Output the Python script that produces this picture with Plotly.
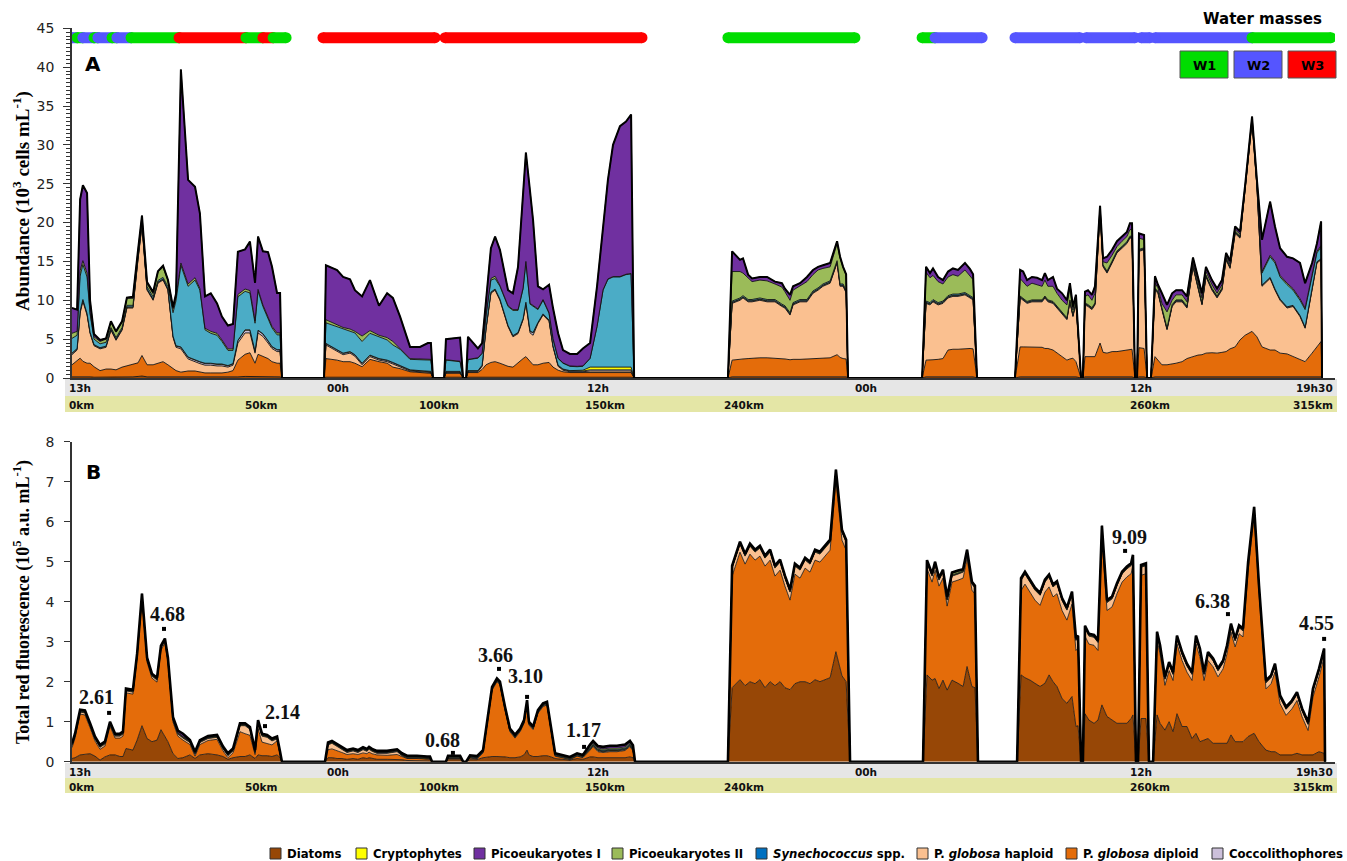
import plotly.graph_objects as go

# ---------------- Panel A : abundance (10^3 cells mL-1) ----------------
hours_a = [
    0.00, 0.22, 0.35, 0.47, 0.65, 0.78, 0.95, 1.21, 1.47, 1.68, 1.90, 2.16, 2.37, 2.63, 2.85, 3.02, 3.24, 3.50, 3.71, 3.93,
    4.14, 4.36, 4.49, 4.70, 5.01, 5.31, 5.52, 5.74, 5.99, 6.26, 6.47, 6.73, 6.95, 7.16, 7.47, 7.68, 7.90, 8.03, 8.24, 8.46,
    8.63, 8.85, 8.98, 9.06,
    10.88, 10.96, 11.44, 11.70, 12.00, 12.21, 12.52, 12.86, 13.25, 13.60, 13.85, 14.16, 14.59, 15.02, 15.36, 15.49, 15.58,
    16.06, 16.14, 16.75, 16.88, 17.01, 17.09, 17.31, 17.52, 17.70, 17.87, 18.08, 18.26, 18.47, 18.82, 19.03, 19.25, 19.47,
    19.59, 19.77, 19.90, 20.11, 20.33, 20.59, 20.76, 20.98, 21.19, 21.49, 21.80, 22.05, 22.36, 22.66, 22.92, 23.13, 23.35,
    23.65, 23.91, 24.13, 24.26,
    28.31, 28.49, 28.83, 28.96, 29.18, 29.35, 29.69, 30.00, 30.34, 30.64, 30.77, 30.99, 31.12, 31.42, 31.72, 31.98, 32.20,
    32.41, 32.72, 33.02, 33.15, 33.28, 33.41, 33.49,
    36.69, 36.86, 37.03, 37.16, 37.38, 37.59, 37.81, 38.02, 38.24, 38.54, 38.76, 38.89, 39.06,
    40.70, 40.92, 41.05, 41.22, 41.43, 41.65, 41.87, 41.99, 42.12, 42.34, 42.51, 42.73, 42.94, 43.07, 43.20, 43.33, 43.55,
    43.63, 43.72, 43.85, 44.02, 44.15, 44.37, 44.50, 44.67, 44.89, 45.10, 45.32, 45.53, 45.66, 45.75, 45.88,
    45.97, 46.05, 46.27, 46.40,
    46.57, 46.74, 46.87, 47.04, 47.26, 47.48, 47.65, 47.91, 48.12, 48.38, 48.60, 48.77, 48.94, 49.20, 49.42, 49.63, 49.81,
    49.98, 50.20, 50.41, 50.63, 50.93, 51.14, 51.36, 51.71, 51.92, 52.14, 52.44, 52.70, 53.00, 53.22, 53.52, 53.73, 53.91, 53.95,
]
diatoms_a = [
    .15, .15, .2, .2, .15, .15, .1, .1, .1, .1, .1, .1, .15, .15, .2, .25, .15, .15, .15, .15,
    .15, .1, .1, .1, .1, .1, .1, .1, .1, .1, .1, .1, .1, .15, .2, .2, .15, .2, .2, .15, .15, .15, .15, 0,
    0, .1, .1, .1, .1, .1, .1, .1, .1, .1, .1, .1, .1, .1, .1, .1, 0,
    0, .1, .1, 0, 0, .1, .1, .1, .1, .1, .1, .1, .1, .1, .1, .1, .1, .1, .1, .1,
    .1, .1, .1, .1, .1, .1, .1, .1, .1, .1, .1, .1, .1, .1, .1, .1, .1, 0,
    0, .15, .15, .15, .15, .15, .15, .15, .15, .15, .15, .15, .15, .15, .15, .15, .15, .15, .15, .15, .15, .15, .15, 0,
    0, .15, .15, .15, .15, .15, .15, .15, .15, .15, .15, .15, 0,
    0, .15, .15, .15, .15, .15, .15, .15, .15, .15, .15, .15, .15, .15, .15, .15, 0,
    0, .15, .15, .15, .15, .15, .15, .15, .15, .15, .15, .15, .15, .15, 0,
    0, .15, .15, 0,
    0, .15, .15, .15, .15, .15, .15, .15, .15, .15, .15, .15, .15, .15, .15, .15, .15, .15, .15, .15, .15, .15, .15,
    .15, .15, .15, .15, .15, .15, .15, .15, .15, .15, .15, 0,
]
diploid_a = [
    1.55, 2.15, 2.35, 1.95, 1.75, 1.75, 1.35, .85, 1.05, 1.05, .95, 1.3, 1.4, 1.55, 1.75, 2.65, 1.55, 1.55, 1.75, 1.95,
    1.55, 1.05, .85, .65, .8, .8, .65, .55, .55, .55, .55, .65, .85, 2.15, 2.85, 3.05, 1.75, 2.85, 2.6, 2.35, 1.95, 1.75, 1.75, 0,
    0, 2.4, 2.2, 2.0, 2.0, 1.8, 1.35, 2.3, 2.0, 1.8, 1.3, 1.1, .7, .6, .5, .5, 0,
    0, .5, .5, 0, 0, .6, .6, .6, 1.0, 1.6, 1.9, 2.0, 1.8, 1.4, 1.3, 1.9, 2.4, 2.65, 2.0, 1.6,
    1.6, 1.8, 1.9, 1.3, .9, .7, .6, .6, .6, .6, .6, .6, .6, .6, .6, .6, .6, 0,
    0, 2.15, 2.3, 2.3, 2.35, 2.4, 2.45, 2.45, 2.4, 2.3, 2.3, 2.2, 2.25, 2.25, 2.3, 2.35, 2.4, 2.4, 2.45, 2.85, 2.5, 2.35, 2.3, 0,
    0, 2.15, 2.15, 2.2, 2.25, 2.35, 3.45, 3.55, 3.55, 3.65, 3.65, 3.6, 0,
    0, 3.85, 3.85, 3.85, 3.85, 3.85, 3.8, 3.65, 3.65, 3.45, 3.05, 2.6, 2.15, 2.3, 2.4, 1.95, 0,
    0, 2.6, 2.6, 2.6, 2.6, 4.35, 3.15, 3.05, 3.25, 3.25, 3.35, 3.45, 3.55, 3.55, 0,
    0, 3.75, 3.65, 0,
    0, 2.6, 2.15, 1.55, 1.55, 1.65, 1.75, 1.95, 2.35, 2.6, 2.8, 2.85, 3.05, 3.1, 3.05, 3.15, 3.25, 3.6, 3.85, 4.75, 5.35,
    5.85, 5.15, 3.85, 3.45, 3.45, 3.05, 2.95, 2.6, 2.15, 1.95, 3.05, 3.85, 4.55, 0,
]
haploid_a = [
    1.3, 1.3, 5.8, 7.7, 6.2, 3.85, 2.7, 2.8, 2.8, 5.0, 3.8, 4.75, 7.45, 7.3, 13.3, 16.7, 9.6, 8.3, 10.3, 10.5,
    9.6, 4.1, 3.0, 3.0, 1.55, 1.15, 1.1, 1.0, 1.0, .9, .9, .65, .7, 2.2, 2.75, 2.55, 1.3, 2.75, 2.55, 2.0, 1.7, 1.5, 1.5, 0,
    0, 1.75, 1.1, .9, 1.1, .9, .25, .35, .2, .2, .4, .2, .1, .1, .1, .1, 0,
    0, .1, .1, 0, 0, .1, .1, .1, .4, 4.6, 8.9, 9.2, 8.1, 5.1, 3.9, 3.7, 5.0, 6.85, 3.7, 3.8,
    5.3, 6.2, 5.3, 2.6, .5, .2, .1, .1, .1, .2, .2, .2, .2, .2, .2, .2, .2, 0,
    0, 7.3, 7.55, 7.85, 7.3, 7.25, 7.4, 7.2, 7.25, 6.75, 6.55, 5.75, 7.0, 7.4, 7.35, 8.4, 8.75, 9.25, 9.6, 11.8, 9.15, 9.3, 8.5, 0,
    0, 7.3, 7.1, 7.45, 7.0, 7.1, 6.7, 6.8, 6.8, 6.9, 6.5, 6.3, 0,
    0, 6.3, 6.0, 5.6, 5.8, 5.8, 5.85, 6.5, 6.0, 6.0, 5.8, 5.35, 5.2, 7.35, 5.35, 7.5, 0,
    0, 6.65, 6.45, 6.05, 6.65, 17.1, 11.0, 10.3, 11.4, 12.7, 13.2, 13.7, 14.3, 14.3, 0,
    0, 12.4, 12.7, 0,
    0, 8.55, 8.6, 7.1, 4.5, 7.4, 7.9, 7.7, 6.5, 11.55, 8.35, 6.4, 9.8, 8.05, 7.1, 8.0, 11.8, 10.35, 14.6, 13.1, 18.7,
    27.0, 19.3, 7.8, 9.2, 7.7, 6.8, 5.9, 6.45, 5.6, 4.3, 8.1, 10.8, 10.5, 0,
]
coccolith_a = [
    .15, .15, .2, .2, .15, .1, .1, .1, .1, .1, .1, .1, .1, .1, .15, .15, .1, .1, .1, .1,
    .1, .1, .15, .2, .2, .2, .2, .2, .2, .2, .2, .15, .15, .3, .35, .35, .2, .3, .3, .25, .2, .2, .2, 0,
    0, .15, .15, .15, .15, .15, .15, .15, .15, .15, .15, .15, .1, .1, .1, .1, 0,
    0, .1, .1, 0, 0, .1, .1, .1, .1, .1, .1, .1, .1, .1, .1, .1, .1, .1, .2, .3,
    .1, .1, .1, .1, .1, .1, .1, .1, .1, .15, .15, .15, .15, .15, .15, .15, .15, 0,
    0, .1, .1, .1, .1, .1, .1, .1, .1, .1, .1, .1, .1, .1, .1, .1, .1, .1, .1, .1, .1, .1, .1, 0,
    0, .1, .1, .1, .1, .1, .1, .1, .1, .1, .1, .1, 0,
    0, .1, .1, .1, .1, .1, .1, .1, .1, .1, .1, .1, .1, .1, .1, .1, 0,
    0, .1, .1, .1, .1, .1, .1, .1, .1, .1, .1, .1, .1, .1, 0,
    0, .1, .1, 0,
    0, .1, .1, .1, .1, .1, .1, .1, .1, .1, .1, .1, .1, .1, .1, .1, .1, .1, .1, .1, .1,
    .1, .1, .1, .1, .1, .1, .1, .1, .1, .1, .1, .1, .1, 0,
]
crypto_a = [
    .05, .05, .05, .05, .05, .05, .05, .05, .05, .05, .05, .05, .05, .05, .05, .05, .05, .05, .05, .05,
    .05, .05, .05, .05, .05, .05, .05, .05, .05, .05, .05, .05, .05, .05, .05, .05, .05, .05, .05, .05, .05, .05, .05, 0,
    0, .05, .05, .05, .05, .05, .05, .05, .05, .05, .05, .05, .05, .05, .05, .05, 0,
    0, .05, .05, 0, 0, .05, .05, .05, .05, .05, .05, .05, .05, .05, .05, .05, .05, .05, .05, .05,
    .05, .05, .05, .05, .05, .05, .05, .05, .1, .35, .35, .35, .35, .35, .35, .35, .35, 0,
    0, .05, .05, .05, .05, .05, .05, .05, .05, .05, .05, .05, .05, .05, .05, .05, .05, .05, .05, .05, .05, .05, .05, 0,
    0, .05, .05, .05, .05, .05, .05, .05, .05, .05, .05, .05, 0,
    0, .05, .05, .05, .05, .05, .05, .05, .05, .05, .05, .05, .05, .05, .05, .05, 0,
    0, .05, .05, .05, .05, .05, .05, .05, .05, .05, .05, .05, .05, .05, 0,
    0, .05, .05, 0,
    0, .05, .05, .05, .05, .05, .05, .05, .05, .05, .05, .05, .05, .05, .05, .05, .05, .05, .05, .05, .05,
    .05, .05, .05, .05, .05, .05, .05, .05, .05, .05, .05, .05, .05, 0,
]
synecho_a = [
    1.9, 1.7, 4.5, 4.5, 4.7, 2.35, .7, .5, .5, .2, .2, .2, .2, .2, .2, .2, .3, .3, .2, .2,
    .3, 3.0, 5.8, 10.5, 9.1, 10.3, 9.2, 4.3, 3.85, 3.7, 2.9, 1.95, 1.7, 5.6, 4.95, 4.75, 3.6, 5.05, 3.5, 2.8, 2.4, 1.9, 1.9, 0,
    0, 2.65, 3.0, 3.1, 2.6, 2.8, 2.8, 2.8, 2.8, 2.6, 2.25, 2.1, 1.35, 1.4, 1.45, 1.45, 0,
    0, 1.45, 1.25, 0, 0, 1.4, 1.5, 1.6, 1.5, 1.5, 1.55, 1.35, 1.65, 2.45, 3.25, 2.85, 3.85, 5.15, 3.45, 3.35,
    1.65, 1.75, .85, .85, .85, .75, .55, .5, .5, 1.1, 5.2, 9.9, 11.3, 11.6, 11.6, 11.9, 12.0, 0,
    0, .15, .15, .15, .15, .15, .15, .15, .15, .15, .15, .15, .15, .15, .15, .15, .15, .15, .15, .15, .15, .15, .15, 0,
    0, .15, .15, .15, .15, .15, .15, .15, .15, .15, .15, .15, 0,
    0, .1, .1, .1, .1, .1, .1, .1, .1, .1, .1, .1, .1, .1, .1, .1, 0,
    0, .1, .1, .1, .1, .1, .1, .1, .1, .1, .1, .1, .1, .1, 0,
    0, .1, .1, 0,
    0, .1, .1, .1, .1, .1, .1, .1, .1, .1, .1, .1, .1, .1, .1, .1, .1, .1, .1, .1, .1,
    .1, .1, 1.55, 2.65, 3.35, 2.85, 2.85, 1.95, 1.95, 2.25, 1.55, 1.15, 1.5, 0,
]
pico2_a = [
    .65, .5, .7, .5, .5, .2, .3, .3, .4, .7, .7, .7, .9, .9, .5, .6, .4, .4, 1.1, 1.3,
    .8, .5, .5, .3, .3, .3, .2, .2, .25, .25, .2, .2, .2, .3, .3, .3, .3, .2, .2, .2, .2, .25, .25, 0,
    0, .4, .2, .2, .3, .2, .7, .35, .2, .3, .45, .1, .1, .1, .1, .1, 0,
    0, .05, .05, 0, 0, .05, .05, .05, .05, .2, .2, .3, .1, .1, .1, .1, .1, .1, .1, .1,
    .1, .1, .1, .1, .05, .05, .05, .05, .05, .05, .05, .05, .05, .05, .05, .05, .05, 0,
    0, 3.8, 3.4, 2.9, 2.7, 2.3, 2.3, 2.4, 2.0, 2.2, 1.8, 1.6, 1.6, 1.7, 2.3, 2.1, 2.3, 2.0, 1.8, 2.2, 3.3, 2.1, 2.0, 0,
    0, 3.7, 3.2, 3.1, 2.7, 2.2, 2.4, 2.5, 2.3, 2.9, 2.6, 2.3, 0,
    0, 2.25, 2.15, 1.95, 2.15, 1.95, 1.75, 2.05, 1.75, 1.95, 1.65, 1.65, 1.65, 1.45, .6, .65, 0,
    0, .85, 1.25, .95, 1.25, .2, .4, 1.05, .75, .55, .65, .65, .85, .85, 0,
    0, 1.45, 1.05, 0,
    0, .65, .45, .55, 2.05, .55, .65, .65, .55, .3, .65, .65, .45, .45, .35, .45, .25, .3, .25, .25, .15,
    .2, .35, .2, .2, .2, .2, .2, .2, .2, .2, .2, .2, .2, 0,
]
pico1_a = [
    3.25, 2.8, 9.2, 9.7, 10.3, 1.5, .35, .2, .1, .1, .1, .1, .1, .2, .3, .3, .2, .2, .1, .2,
    .1, .2, .4, 24.9, 13.4, 11.7, 9.7, 4.1, 4.9, 3.85, 3.0, 3.0, 3.2, 5.5, 5.1, 6.3, 4.9, 6.8, 6.9, 8.4, 7.7, 5.15, 5.15, 0,
    0, 7.0, 7.1, 6.5, 6.4, 5.3, 5.1, 6.5, 3.8, 5.7, 5.6, 4.1, 1.5, 1.55, 2.1, 2.1, 0,
    0, 2.65, 3.05, 0, 0, 2.9, 2.0, 1.2, 1.3, 2.25, 3.9, 5.1, 4.6, 2.0, 2.1, 5.5, 12.4, 14.0, 14.4, 11.0,
    2.9, 1.3, 3.6, 3.9, 3.2, 1.65, 1.55, 1.6, 2.25, 1.95, 5.15, 8.15, 12.75, 16.95, 19.35, 19.65, 20.45, 0,
    0, 2.6, 1.5, 1.9, .5, .4, .4, .5, .3, .5, .4, .7, .5, .4, .6, .6, .4, .4, .5, .3, .2, .1, .1, 0,
    0, .7, .6, .9, .6, .5, .7, .8, .8, .9, .8, .7, 0,
    0, 1.1, 1.3, .8, .8, .9, .8, .9, .8, 1.2, .6, .9, .6, .7, .45, .2, 0,
    0, .6, .6, .7, .9, .1, .45, .8, .7, .7, .6, .6, .8, .8, 0,
    0, .6, .6, 0,
    0, .9, .4, 1.3, .9, .9, .6, .6, .7, .65, .8, .6, .6, .6, .6, .6, .4, .4, .4, .35, .2,
    .2, .3, 4.1, 6.9, 4.5, 3.5, 3.4, 3.9, 4.6, 3.2, 1.6, 1.0, 3.1, 0,
]

# ---------------- Panel B : total red fluorescence (10^5 a.u. mL-1) ----------------
hours_b = [
    0.00, 0.13, 0.35, 0.56, 0.78, 0.99, 1.21, 1.42, 1.64, 1.86, 2.07, 2.20, 2.33, 2.63, 2.81, 3.02, 3.24, 3.45, 3.67, 3.84,
    4.01, 4.14, 4.36, 4.57, 4.79, 5.09, 5.31, 5.52, 5.87, 6.26, 6.52, 6.73, 6.95, 7.25, 7.47, 7.68, 7.90, 8.03, 8.20, 8.42,
    8.63, 8.85, 8.98, 9.06,
    10.92, 11.05, 11.22, 11.44, 11.65, 11.87, 12.13, 12.34, 12.56, 12.73, 12.82, 12.95, 13.16, 13.60, 14.03, 14.24, 14.46,
    14.89, 15.32, 15.45, 15.54,
    16.14, 16.23, 16.75, 16.88, 17.01, 17.18, 17.48, 17.74, 17.91, 18.13, 18.34, 18.47, 18.69, 18.90, 19.12, 19.34, 19.51,
    19.64, 19.72, 19.90, 20.11, 20.33, 20.50, 20.67, 20.85, 21.15, 21.49, 21.80, 22.05, 22.36, 22.49, 22.70, 22.92, 23.22,
    23.52, 23.87, 24.08, 24.21, 24.30,
    28.31, 28.49, 28.83, 29.05, 29.26, 29.48, 29.69, 29.91, 30.13, 30.34, 30.56, 30.77, 30.99, 31.20, 31.42, 31.64, 31.85,
    32.07, 32.28, 32.50, 32.72, 32.97, 33.23, 33.41, 33.58,
    36.73, 36.90, 37.12, 37.25, 37.42, 37.59, 37.77, 37.98, 38.24, 38.46, 38.63, 38.84, 38.97, 39.10,
    40.79, 40.96, 41.13, 41.35, 41.56, 41.78, 41.99, 42.17, 42.34, 42.51, 42.73, 42.94, 43.16, 43.33, 43.42, 43.55,
    43.63, 43.72, 43.89, 44.11, 44.28, 44.45, 44.67, 44.89, 45.10, 45.32, 45.53, 45.71, 45.79, 45.92,
    46.01, 46.14, 46.35, 46.48,
    46.66, 46.83, 46.96, 47.17, 47.35, 47.52, 47.69, 47.91, 48.12, 48.34, 48.51, 48.68, 48.86, 49.03, 49.25, 49.46, 49.68,
    49.85, 50.02, 50.20, 50.37, 50.54, 50.76, 51.02, 51.23, 51.53, 51.75, 51.92, 52.14, 52.40, 52.65, 52.87, 53.09, 53.35,
    53.56, 53.82, 54.04, 54.08,
]
diatoms_b = [
    .08, .1, .17, .19, .2, .14, .04, .12, .17, .17, .13, .13, .33, .29, .54, .9, .58, .5, .54, .8,
    .63, .5, .2, .08, .1, .17, .08, .17, .2, .17, .13, .06, .1, .13, .13, .17, .08, .17, .15, .15, .13, .17, .1, 0,
    0, .1, .1, .08, .08, .06, .08, .06, .1, .08, .1, .08, .06, .06, .06, .05, .03, .03, .02, .02, 0,
    0, .05, .05, 0, 0, .05, .05, .1, .12, .13, .13, .13, .12, .1, .1, .12, .17, .29, .17, .13,
    .13, .15, .15, .12, .08, .06, .04, .08, .06, .12, .12, .1, .1, .1, .1, .1, .12, .1, 0,
    0, 1.85, 2.05, 1.9, 2.0, 1.95, 2.05, 1.85, 2.0, 1.9, 2.0, 1.85, 1.8, 1.95, 2.0, 2.0, 1.95, 2.05, 2.0, 2.05, 2.1, 2.75,
    2.15, 2.0, 0,
    0, 2.17, 2.04, 2.08, 1.83, 2.04, 1.79, 2.04, 1.96, 1.88, 2.38, 1.88, 1.85, 0,
    0, 2.17, 2.1, 2.04, 1.96, 1.88, 1.96, 2.17, 2.0, 1.88, 1.58, 1.46, 1.63, .88, .9, 0,
    0, 1.2, 1.04, .96, 1.04, 1.42, 1.13, 1.04, .96, .96, .96, 1.08, 1.17, 0,
    0, 1.08, 1.08, 0,
    0, 1.17, .96, .79, 1.0, .75, 1.2, .88, .88, .58, .71, .5, .54, .58, .46, .46, .45, .46, .67, .5, .5, .5, .63, .71,
    .5, .29, .25, .25, .17, .17, .17, .21, .17, .17, .17, .25, .21, 0,
]
diploid_b = [
    .27, .49, 1.02, .98, .65, .38, .27, .27, .72, .42, .46, .51, 1.39, 1.4, 2.05, 3.19, 1.91, 1.59, 1.45, 1.99,
    2.34, 1.99, .79, .56, .44, .26, .06, .26, .33, .39, .14, .04, .12, .62, .57, .49, .1, .66, .34, .31, .29, .35, .04, 0,
    0, .2, .22, .2, .15, .12, .12, .12, .12, .12, .14, .12, .11, .1, .12, .08, .05, .05, .04, .04, 0,
    0, .03, .03, 0, 0, .04, .02, .12, .84, 1.66, 1.87, 1.79, 1.17, .65, .49, .63, .79, 1.17, .75, .67,
    1.08, 1.23, 1.27, .68, .06, .04, .01, .06, .04, .17, .26, .15, .13, .15, .15, .18, .26, .17, 0,
    0, 2.79, 3.19, 3.04, 3.19, 3.09, 3.09, 3.04, 3.04, 2.74, 2.79, 2.54, 2.24, 2.74, 2.59, 2.84, 2.79, 2.99, 2.99, 3.09,
    3.19, 4.29, 3.39, 3.29, 0,
    0, 2.66, 2.45, 2.71, 2.56, 2.55, 2.10, 2.45, 2.58, 2.71, 2.71, 2.41, 2.34, 0,
    0, 2.11, 2.34, 2.2, 2.08, 2.03, 2.28, 2.2, 2.12, 2.32, 2.2, 2.08, 2.31, 1.9, 1.94, 0,
    0, 1.94, 1.9, 1.95, 1.74, 4.22, 2.65, 2.83, 3.24, 3.53, 3.66, 3.62, 3.74, 0,
    0, 3.58, 3.62, 0,
    0, 1.87, 1.74, 1.12, 1.28, 1.28, 1.74, 1.65, 1.36, 1.45, 2.23, 2.12, 1.49, 1.95, 1.91, 1.66, 1.87, 2.24, 2.57, 2.37,
    2.7, 2.62, 4.15, 5.45, 3.7, 1.53, 1.7, 1.99, 1.28, .99, 1.15, 1.32, .95, .61, 1.45, 1.87, 2.41, 0,
]
haploid_b = [
    .05, .05, .05, .05, .05, .05, .05, .05, .05, .05, .05, .05, .05, .05, .05, .05, .05, .05, .05, .05,
    .05, .05, .05, .05, .05, .05, .05, .05, .05, .05, .05, .05, .05, .15, .2, .15, .05, .15, .15, .15, .1, .05, .05, 0,
    0, .12, .14, .1, .07, .05, .07, .05, .08, .06, .07, .06, .04, .05, .07, .02, .01, .01, .01, .01, 0,
    0, .01, .01, 0, 0, .01, .01, .01, .02, .02, .02, .02, .02, .02, .02, .02, .02, .02, .02, .02,
    .02, .02, .02, .02, .01, .01, .01, .01, .01, .02, .02, .02, .02, .02, .02, .02, .02, .02, 0,
    0, .2, .2, .2, .2, .2, .2, .2, .2, .2, .2, .2, .2, .2, .2, .2, .2, .2, .2, .2, .2, .2, .2, .2, 0,
    0, .15, .15, .15, .15, .15, .15, .15, .15, .15, .15, .15, .15, 0,
    0, .25, .25, .25, .25, .25, .25, .25, .25, .25, .25, .25, .25, .25, .25, 0,
    0, .2, .2, .2, .2, .2, .2, .2, .2, .2, .2, .2, .2, 0,
    0, .2, .2, 0,
    0, .15, .15, .15, .15, .15, .15, .15, .15, .15, .15, .15, .15, .15, .15, .15, .15, .15, .15, .15, .15, .15, .15, .15,
    .15, .15, .15, .15, .15, .15, .15, .15, .15, .15, .15, .15, .15, 0,
]
coccolith_b = [
    .01, .01, .01, .01, .01, .01, .01, .01, .01, .01, .01, .01, .01, .01, .01, .01, .01, .01, .01, .01,
    .01, .01, .01, .01, .01, .01, .01, .01, .01, .01, .01, .01, .01, .01, .01, .01, .01, .01, .01, .01, .01, .01, .01, 0,
    0, .01, .01, .01, .01, .01, .01, .01, .01, .01, .01, .01, .01, .01, .01, .01, .01, .01, .01, .01, 0,
    0, .01, .01, 0, 0, .01, .01, .01, .01, .01, .01, .01, .01, .01, .01, .01, .01, .01, .01, .01,
    .01, .01, .01, .01, .01, .01, .01, .01, .01, .01, .01, .01, .01, .01, .01, .01, .01, .01, 0,
    0, .01, .01, .01, .01, .01, .01, .01, .01, .01, .01, .01, .01, .01, .01, .01, .01, .01, .01, .01, .01, .01, .01, .01, 0,
    0, .01, .01, .01, .01, .01, .01, .01, .01, .01, .01, .01, .01, 0,
    0, .01, .01, .01, .01, .01, .01, .01, .01, .01, .01, .01, .01, .01, .01, 0,
    0, .01, .01, .01, .01, .01, .01, .01, .01, .01, .01, .01, .01, 0,
    0, .01, .01, 0,
    0, .01, .01, .01, .01, .01, .01, .01, .01, .01, .01, .01, .01, .01, .01, .01, .01, .01, .01, .01, .01, .01, .01, .01,
    .01, .01, .01, .01, .01, .01, .01, .01, .01, .01, .01, .01, .01, 0,
]
crypto_b = list(coccolith_b)  # read as the same faint ~0.01 band in every sample
synecho_b = [
    .01, .01, .01, .01, .01, .01, .01, .01, .01, .01, .01, .01, .01, .01, .01, .01, .01, .01, .01, .01,
    .01, .01, .01, .01, .01, .01, .01, .01, .01, .01, .01, .01, .01, .01, .01, .01, .01, .01, .01, .01, .01, .01, .01, 0,
    0, .01, .01, .01, .01, .01, .01, .01, .01, .01, .01, .01, .01, .01, .01, .01, .01, .01, .01, .01, 0,
    0, .01, .01, 0, 0, .01, .01, .01, .01, .01, .01, .01, .01, .01, .01, .01, .01, .01, .01, .01,
    .01, .01, .01, .01, .01, .01, .01, .01, .01, .02, .02, .02, .02, .02, .02, .02, .02, .02, 0,
    0, .01, .01, .01, .01, .01, .01, .01, .01, .01, .01, .01, .01, .01, .01, .01, .01, .01, .01, .01, .01, .01, .01, .01, 0,
    0, .01, .01, .01, .01, .01, .01, .01, .01, .01, .01, .01, .01, 0,
    0, .01, .01, .01, .01, .01, .01, .01, .01, .01, .01, .01, .01, .01, .01, 0,
    0, .01, .01, .01, .01, .01, .01, .01, .01, .01, .01, .01, .01, 0,
    0, .01, .01, 0,
    0, .01, .01, .01, .01, .01, .01, .01, .01, .01, .01, .01, .01, .01, .01, .01, .01, .01, .01, .01, .01, .01, .01, .01,
    .01, .01, .01, .01, .01, .01, .01, .01, .01, .01, .01, .01, .01, 0,
]
pico2_b = [
    .01, .01, .01, .01, .01, .01, .01, .01, .01, .01, .01, .01, .01, .01, .01, .01, .01, .01, .01, .01,
    .01, .01, .01, .01, .01, .01, .01, .01, .01, .01, .01, .01, .01, .01, .01, .01, .01, .01, .01, .01, .01, .01, .01, 0,
    0, .01, .01, .01, .01, .01, .01, .01, .01, .01, .01, .01, .01, .01, .01, .01, .01, .01, .01, .01, 0,
    0, .01, .01, 0, 0, .01, .01, .01, .01, .01, .01, .01, .01, .01, .01, .01, .01, .01, .01, .01,
    .01, .01, .01, .01, .01, .01, .01, .01, .01, .03, .03, .03, .03, .03, .03, .03, .03, .03, 0,
    0, .01, .01, .01, .01, .01, .01, .01, .01, .01, .01, .01, .01, .01, .01, .01, .01, .01, .01, .01, .01, .01, .01, .01, 0,
    0, .01, .01, .01, .01, .01, .03, .04, .04, .02, .01, .01, .01, 0,
    0, .01, .01, .01, .01, .01, .01, .01, .01, .01, .01, .01, .01, .01, .01, 0,
    0, .01, .01, .01, .01, .01, .01, .01, .01, .01, .01, .01, .01, 0,
    0, .01, .01, 0,
    0, .01, .01, .01, .01, .01, .01, .01, .01, .01, .01, .01, .01, .01, .01, .01, .01, .01, .01, .01, .01, .01, .01, .01,
    .01, .01, .01, .01, .01, .01, .01, .01, .01, .01, .01, .01, .01, 0,
]
pico1_b = [
    .02, .02, .02, .02, .02, .02, .02, .02, .02, .02, .02, .02, .02, .02, .02, .02, .02, .02, .02, .02,
    .02, .02, .03, .05, .07, .02, .02, .02, .02, .02, .02, .02, .02, .02, .02, .02, .02, .02, .02, .02, .02, .02, .02, 0,
    0, .02, .02, .02, .02, .02, .02, .02, .02, .02, .02, .02, .02, .02, .02, .02, .02, .02, .02, .02, 0,
    0, .02, .02, 0, 0, .02, .02, .02, .02, .02, .02, .02, .02, .02, .02, .02, .02, .02, .02, .02,
    .02, .02, .02, .02, .02, .02, .02, .02, .02, .05, .05, .05, .05, .06, .06, .06, .05, .05, 0,
    0, .02, .02, .02, .02, .02, .02, .02, .02, .02, .02, .02, .02, .02, .02, .02, .02, .02, .02, .02, .02, .02, .02, .02, 0,
    0, .02, .02, .02, .02, .02, .02, .02, .02, .02, .02, .02, .02, 0,
    0, .02, .02, .02, .02, .02, .02, .02, .02, .02, .02, .02, .02, .02, .02, 0,
    0, .02, .02, .02, .02, .02, .02, .02, .02, .02, .02, .02, .02, 0,
    0, .02, .02, 0,
    0, .02, .02, .02, .02, .02, .02, .02, .02, .02, .02, .02, .02, .02, .02, .02, .02, .02, .02, .02, .02, .02, .02, .02,
    .02, .02, .02, .02, .02, .02, .02, .02, .02, .02, .02, .02, .02, 0,
]

# ---------------- annotations & axis labels ----------------
peak_labels = ["2.61", "4.68", "2.14", "0.68", "3.66", "3.10", "1.17", "9.09", "6.38", "4.55"]
peak_hours = [1.60, 3.97, 8.33, 16.44, 18.43, 19.64, 22.10, 45.45, 49.89, 54.04]
peak_values = [1.22, 3.32, 0.89, 0.22, 2.32, 1.62, 0.37, 5.27, 3.69, 3.07]

time_labels = ["13h", "00h", "12h", "00h", "12h", "19h30"]
time_hours = [0.0, 10.92, 22.14, 33.71, 45.58, 54.51]
km_labels = ["0km", "50km", "100km", "150km", "240km", "260km", "315km"]
km_hours = [0.0, 7.38, 14.89, 22.05, 28.05, 45.58, 54.51]

wm_codes = ["W2", "W1", "W2", "W1", "W2", "W1", "W2", "W1", "W3", "W1", "W3", "W1", "W3", "W3", "W1", "W1", "W2",
            "W2", "W2", "W2", "W2", "W1"]
wm_start = [0.0, 0.22, 0.47, 0.95, 1.12, 1.73, 1.94, 2.55, 4.62, 7.51, 8.24, 8.68, 10.83, 16.10, 28.31, 36.69, 37.25,
            40.70, 43.76, 46.14, 46.74, 50.93]
wm_end = [0.22, 0.47, 0.95, 1.12, 1.73, 1.94, 2.55, 4.62, 7.51, 8.24, 8.68, 9.24, 15.67, 24.60, 33.79, 37.25, 39.28,
          43.51, 45.88, 46.53, 50.93, 54.34]

# ---------------- styling ----------------
FIG_W, FIG_H = 1347, 861


def pxx(p):
    return p / FIG_W


def pxy(p):
    return 1 - p / FIG_H


WM_COLORS = {"W1": "#00DD00", "W2": "#5555FF", "W3": "#FF0000"}
species = [
    ("Diatoms", "#974706", diatoms_a, diatoms_b),
    ("P. globosa diploid", "#E46C0A", diploid_a, diploid_b),
    ("P. globosa haploid", "#FAC090", haploid_a, haploid_b),
    ("Coccolithophores", "#CCC0DA", coccolith_a, coccolith_b),
    ("Cryptophytes", "#FFFF00", crypto_a, crypto_b),
    ("Synechococcus spp.", "#4BACC6", synecho_a, synecho_b),
    ("Picoeukaryotes II", "#9BBB59", pico2_a, pico2_b),
    ("Picoeukaryotes I", "#7030A0", pico1_a, pico1_b),
]
for nm, _, sa, sb in species:
    if len(sa) != len(hours_a) or len(sb) != len(hours_b):
        raise SystemExit(f"length mismatch {nm}: {len(sa)}/{len(hours_a)}  {len(sb)}/{len(hours_b)}")

fig = go.Figure()
for nm, col, sa, sb in species:
    fig.add_trace(go.Scatter(x=hours_a, y=sa, name=nm, stackgroup="A", mode="lines",
                             line=dict(color="#111", width=0.9), fillcolor=col, showlegend=False,
                             xaxis="x", yaxis="y", hoverinfo="skip"))
    fig.add_trace(go.Scatter(x=hours_b, y=sb, name=nm, stackgroup="B", mode="lines",
                             line=dict(color="#111", width=0.8), fillcolor=col, showlegend=False,
                             xaxis="x2", yaxis="y2", hoverinfo="skip"))

total_a = [sum(v) for v in zip(*[s[2] for s in species])]
total_b = [sum(v) for v in zip(*[s[3] for s in species])]
fig.add_trace(go.Scatter(x=hours_a, y=total_a, mode="lines", line=dict(color="black", width=2),
                         showlegend=False, xaxis="x", yaxis="y", hoverinfo="skip"))
fig.add_trace(go.Scatter(x=hours_b, y=total_b, mode="lines", line=dict(color="black", width=2.6),
                         showlegend=False, xaxis="x2", yaxis="y2", hoverinfo="skip"))

# water-mass strip across the top of panel A
WM_LEVEL = 43.8
for code, s, e in zip(wm_codes, wm_start, wm_end):
    c = WM_COLORS[code]
    fig.add_trace(go.Scatter(x=[s, e], y=[WM_LEVEL, WM_LEVEL], mode="lines+markers",
                             line=dict(color=c, width=11), marker=dict(color=c, size=11),
                             showlegend=False, xaxis="x", yaxis="y", hoverinfo="skip"))

# peak markers in panel B
fig.add_trace(go.Scatter(x=peak_hours, y=peak_values, mode="markers",
                         marker=dict(symbol="square", size=4, color="black"),
                         showlegend=False, xaxis="x2", yaxis="y2", hoverinfo="skip", cliponaxis=False))

X_DOM = [pxx(72), pxx(1335)]
axis_common_x = dict(domain=X_DOM, range=[0, 54.51], showticklabels=False, ticks="", showgrid=False,
                     zeroline=False, showline=True, linecolor="#333", linewidth=2, automargin=False)
tickfont = dict(family="DejaVu Sans, Verdana, sans-serif", size=14, color="#222")
fig.update_layout(
    width=FIG_W, height=FIG_H, margin=dict(l=0, r=0, t=0, b=0, autoexpand=False),
    paper_bgcolor="white", plot_bgcolor="white", showlegend=False,
    xaxis=dict(anchor="y", **axis_common_x),
    xaxis2=dict(anchor="y2", **axis_common_x),
    yaxis=dict(domain=[pxy(378), pxy(28.3)], range=[0, 45], tick0=0, dtick=5, ticks="outside", ticklen=7,
               tickcolor="#333", showline=True, linecolor="#333", linewidth=1.5, showgrid=False, zeroline=False,
               tickfont=tickfont, ticklabelstandoff=6, automargin=False,
               minor=dict(dtick=0.5, ticks="outside", ticklen=4, tickcolor="#333", showgrid=False)),
    yaxis2=dict(domain=[pxy(761.7), pxy(441.7)], range=[0, 8], tick0=0, dtick=1, ticks="outside", ticklen=6,
                tickcolor="#333", showline=True, linecolor="#333", linewidth=1.5, showgrid=False, zeroline=False,
                tickfont=tickfont, ticklabelstandoff=7, automargin=False),
)

shapes = []
annotations = []
label_font = dict(family="DejaVu Sans, Verdana, sans-serif", size=10.5, color="#111")
for (t_top, t_bot, k_bot) in [(379, 396, 412), (763, 778, 793)]:
    shapes.append(dict(type="rect", xref="paper", yref="paper", x0=pxx(65), x1=pxx(1337),
                       y0=pxy(t_bot), y1=pxy(t_top), fillcolor="#E6E6E6", line=dict(width=0), layer="below"))
    shapes.append(dict(type="rect", xref="paper", yref="paper", x0=pxx(65), x1=pxx(1337),
                       y0=pxy(k_bot), y1=pxy(t_bot), fillcolor="#E4E6A6", line=dict(width=0), layer="below"))
    ty = pxy((t_top + t_bot) / 2 + 1)
    ky = pxy((t_bot + k_bot) / 2 + 1)
    for i, (lab, h) in enumerate(zip(time_labels, time_hours)):
        last = i == len(time_labels) - 1
        annotations.append(dict(x=h, y=ty, xref="x", yref="paper", text=f"<b>{lab}</b>", showarrow=False,
                                xanchor="right" if last else "left", yanchor="middle",
                                xshift=-5 if i == 0 else 0, font=label_font))
    for i, (lab, h) in enumerate(zip(km_labels, km_hours)):
        last = i == len(km_labels) - 1
        annotations.append(dict(x=h, y=ky, xref="x", yref="paper", text=f"<b>{lab}</b>", showarrow=False,
                                xanchor="right" if last else "left", yanchor="middle",
                                xshift=-5 if i == 0 else 0, font=label_font))

# peak value labels
peak_dx = [-13, 4, 17, -10, -4, -2, -1, 4, -15, -8]
peak_dy = [16, 15, 14, 13, 14, 21, 17, 14, 13, 16]
for lab, h, v, dx, dy in zip(peak_labels, peak_hours, peak_values, peak_dx, peak_dy):
    annotations.append(dict(x=h, y=v, xref="x2", yref="y2", text=f"<b>{lab}</b>", showarrow=False,
                            xanchor="center", yanchor="middle", xshift=dx, yshift=dy,
                            font=dict(family="Liberation Serif, Times New Roman, serif", size=20, color="#111")))

CM = dict(xref="paper", yref="paper", showarrow=False, xanchor="center", yanchor="middle")
annotations += [
    dict(x=pxx(93), y=pxy(64), text="<b>A</b>", font=dict(family="DejaVu Sans, sans-serif", size=20, color="black"), **CM),
    dict(x=pxx(93), y=pxy(472), text="<b>B</b>", font=dict(family="DejaVu Sans, sans-serif", size=20, color="black"), **CM),
    dict(x=pxx(22), y=pxy(201), textangle=-90,
         text="<b>Abundance (10<sup>3</sup> cells mL<sup>-1</sup>)</b>",
         font=dict(family="Liberation Serif, Times New Roman, serif", size=19, color="black"), **CM),
    dict(x=pxx(22), y=pxy(602), textangle=-90,
         text="<b>Total red fluorescence (10<sup>5</sup> a.u. mL<sup>-1</sup>)</b>",
         font=dict(family="Liberation Serif, Times New Roman, serif", size=18, color="black"), **CM),
    dict(x=pxx(1262), y=pxy(19), text="<b>Water masses</b>",
         font=dict(family="DejaVu Sans, Verdana, sans-serif", size=15, color="black"), **CM),
]

# water mass key boxes
for code, x0 in zip(["W1", "W2", "W3"], [1180, 1234, 1288]):
    shapes.append(dict(type="rect", xref="paper", yref="paper", x0=pxx(x0), x1=pxx(x0 + 48),
                       y0=pxy(78), y1=pxy(51), fillcolor=WM_COLORS[code], line=dict(color="#555", width=1)))
    annotations.append(dict(x=pxx(x0 + 24), y=pxy(65), text=f"<b>{code}</b>",
                            font=dict(family="DejaVu Sans, Verdana, sans-serif", size=13, color="black"), **CM))

# species key along the bottom
legend_names = ["Diatoms", "Cryptophytes", "Picoeukaryotes I", "Picoeukaryotes II", "<i>Synechococcus</i> spp.",
                "P. <i>globosa</i> haploid", "P. <i>globosa</i> diploid", "Coccolithophores"]
legend_colors = ["#974706", "#FFFF00", "#7030A0", "#9BBB59", "#0070C0", "#FAC090", "#E46C0A", "#CCC0DA"]
legend_x = [270, 356, 474, 612, 756, 917, 1066, 1212]
for nm, col, x0 in zip(legend_names, legend_colors, legend_x):
    shapes.append(dict(type="rect", xref="paper", yref="paper", x0=pxx(x0), x1=pxx(x0 + 11),
                       y0=pxy(859), y1=pxy(848), fillcolor=col, line=dict(color="#333", width=1)))
    annotations.append(dict(x=pxx(x0 + 15), y=pxy(853.5), xref="paper", yref="paper", text=f"<b>{nm}</b>",
                            showarrow=False, xanchor="left", yanchor="middle",
                            font=dict(family="Liberation Sans Narrow, DejaVu Sans Condensed, Arial Narrow, sans-serif",
                                      size=13, color="black")))

fig.update_layout(shapes=shapes, annotations=annotations)

fig.write_html("out.html", config={"displayModeBar": False},
               post_script="document.body.style.margin='0';document.body.style.overflow='hidden';")
